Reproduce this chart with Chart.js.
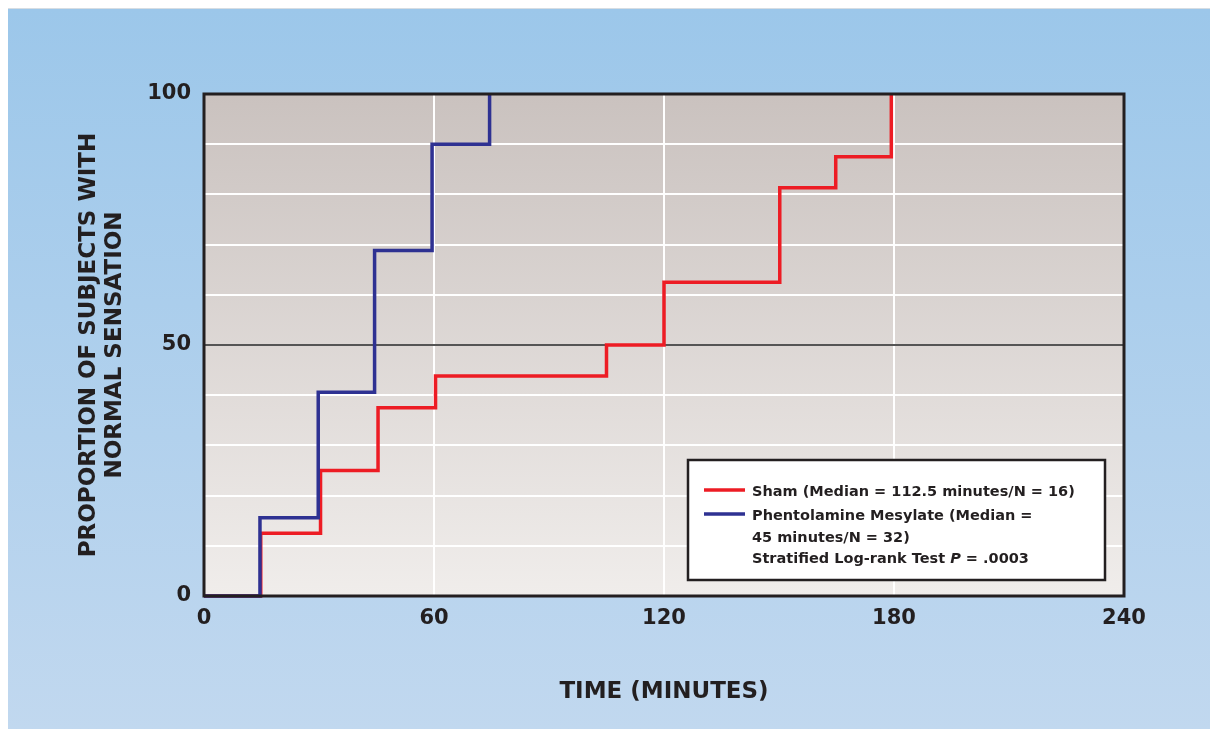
<!DOCTYPE html>
<html>
<head>
<meta charset="utf-8">
<script src="https://cdn.jsdelivr.net/npm/chart.js@4.4.1/dist/chart.umd.min.js"></script>
<style>
  html, body { margin: 0; padding: 0; background: #fff; }
  canvas { display: block; }
</style>
</head>
<body>
<canvas id="kmChart" width="1210" height="729"></canvas>
<script>
// step points (time in minutes, % with normal sensation)
const shamTimes = [0, 14.8, 30.4, 45.4, 60.4, 105, 120, 150.2, 164.8, 179.3];
const shamValues = [0, 12.5, 25, 37.5, 43.8, 50, 62.5, 81.3, 87.5, 100];
const phentTimes = [0, 14.6, 29.8, 44.5, 59.5, 74.5];
const phentValues = [0, 15.6, 40.6, 68.8, 90, 100];

const xTicks = [0, 60, 120, 180, 240];
const yLabelTicks = [0, 50, 100];

const legendLines = [
    'Sham (Median = 112.5 minutes/N = 16)',
    'Phentolamine Mesylate (Median =',
    '45 minutes/N = 32)'
];

const FONT = "'DejaVu Sans', Verdana, sans-serif";
const INK = '#231f20';

const toPoints = (xs, ys) => xs.map((x, i) => ({ x: x, y: ys[i] }));

const backdrop = {
    id: 'backdrop',
    beforeDraw(chart) {
        const { ctx, chartArea: a } = chart;
        ctx.save();
        ctx.fillStyle = '#ffffff';
        ctx.fillRect(0, 0, chart.width, chart.height);
        ctx.fillStyle = '#d6dde3';
        ctx.fillRect(8, 8, chart.width - 8, 1);
        let g = ctx.createLinearGradient(0, 9, 0, chart.height);
        g.addColorStop(0, '#9cc7ea');
        g.addColorStop(1, '#c1d8ef');
        ctx.fillStyle = g;
        ctx.fillRect(8, 9, chart.width - 8, chart.height - 9);
        g = ctx.createLinearGradient(0, a.top, 0, a.bottom);
        g.addColorStop(0, '#cac2bf');
        g.addColorStop(1, '#f0edeb');
        ctx.fillStyle = g;
        ctx.fillRect(a.left, a.top, a.right - a.left, a.bottom - a.top);
        ctx.restore();
    }
};

const frameAndKey = {
    id: 'frameAndKey',
    afterDraw(chart) {
        const { ctx, chartArea: a } = chart;
        ctx.save();
        ctx.strokeStyle = INK;
        ctx.lineWidth = 3;
        ctx.strokeRect(a.left, a.top, a.right - a.left, a.bottom - a.top);

        // key box
        ctx.fillStyle = '#ffffff';
        ctx.fillRect(688, 460, 417, 120);
        ctx.lineWidth = 2.5;
        ctx.strokeRect(688, 460, 417, 120);

        const sham = chart.data.datasets[1];
        const phent = chart.data.datasets[0];
        ctx.lineWidth = 3.5;
        ctx.strokeStyle = sham.borderColor;
        ctx.beginPath(); ctx.moveTo(704, 490); ctx.lineTo(745, 490); ctx.stroke();
        ctx.strokeStyle = phent.borderColor;
        ctx.beginPath(); ctx.moveTo(704, 514); ctx.lineTo(745, 514); ctx.stroke();

        const f = 'bold 14.5px ' + FONT;
        ctx.fillStyle = INK;
        ctx.textBaseline = 'middle';
        ctx.font = f;
        ctx.fillText(legendLines[0], 752, 492);
        ctx.fillText(legendLines[1], 752, 516);
        ctx.fillText(legendLines[2], 752, 538);
        let x = 752;
        const part1 = 'Stratified Log-rank Test ';
        ctx.fillText(part1, x, 559);
        x += ctx.measureText(part1).width;
        ctx.font = 'italic ' + f;
        ctx.fillText('P', x, 559);
        x += ctx.measureText('P').width;
        ctx.font = f;
        ctx.fillText(' = .0003', x, 559);
        ctx.restore();
    }
};

new Chart(document.getElementById('kmChart').getContext('2d'), {
    type: 'line',
    data: {
        datasets: [{
            label: 'Phentolamine Mesylate',
            data: toPoints(phentTimes, phentValues),
            borderColor: '#2e3192',
            borderWidth: 3.5,
            stepped: 'before',
            pointRadius: 0,
            fill: false,
            clip: false
        }, {
            label: 'Sham',
            data: toPoints(shamTimes, shamValues),
            borderColor: '#ed1c24',
            borderWidth: 3.5,
            stepped: 'before',
            pointRadius: 0,
            fill: false,
            clip: false
        }]
    },
    options: {
        responsive: false,
        animation: false,
        layout: { padding: { left: 0, top: 94, right: 86, bottom: 0 } },
        plugins: {
            legend: { display: false },
            tooltip: { enabled: false }
        },
        scales: {
            x: {
                type: 'linear',
                min: 0,
                max: 240,
                afterFit: (s) => { s.height = 133; },
                afterBuildTicks: (s) => { s.ticks = xTicks.map(v => ({ value: v })); },
                ticks: {
                    color: INK,
                    padding: 10,
                    font: { family: FONT, size: 21, weight: 'bold' }
                },
                grid: { color: '#ffffff', lineWidth: 2, drawTicks: false },
                border: { display: false },
                title: {
                    display: true,
                    text: 'TIME (MINUTES)',
                    color: INK,
                    padding: { bottom: 23 },
                    font: { family: FONT, size: 23, weight: 'bold' }
                }
            },
            y: {
                min: 0,
                max: 100,
                afterFit: (s) => { s.width = 204; },
                ticks: {
                    stepSize: 10,
                    color: INK,
                    padding: 13,
                    font: { family: FONT, size: 21, weight: 'bold' },
                    callback: (v) => yLabelTicks.includes(v) ? String(v) : ''
                },
                grid: {
                    color: (c) => c.tick && c.tick.value === 50 ? '#555555' : '#ffffff',
                    lineWidth: 2,
                    drawTicks: false
                },
                border: { display: false },
                title: {
                    display: true,
                    text: ['PROPORTION OF SUBJECTS WITH', 'NORMAL SENSATION'],
                    color: INK,
                    padding: { top: 76 },
                    font: { family: FONT, size: 23, weight: 'bold', lineHeight: '26px' }
                }
            }
        }
    },
    plugins: [backdrop, frameAndKey]
});
</script>
</body>
</html>
